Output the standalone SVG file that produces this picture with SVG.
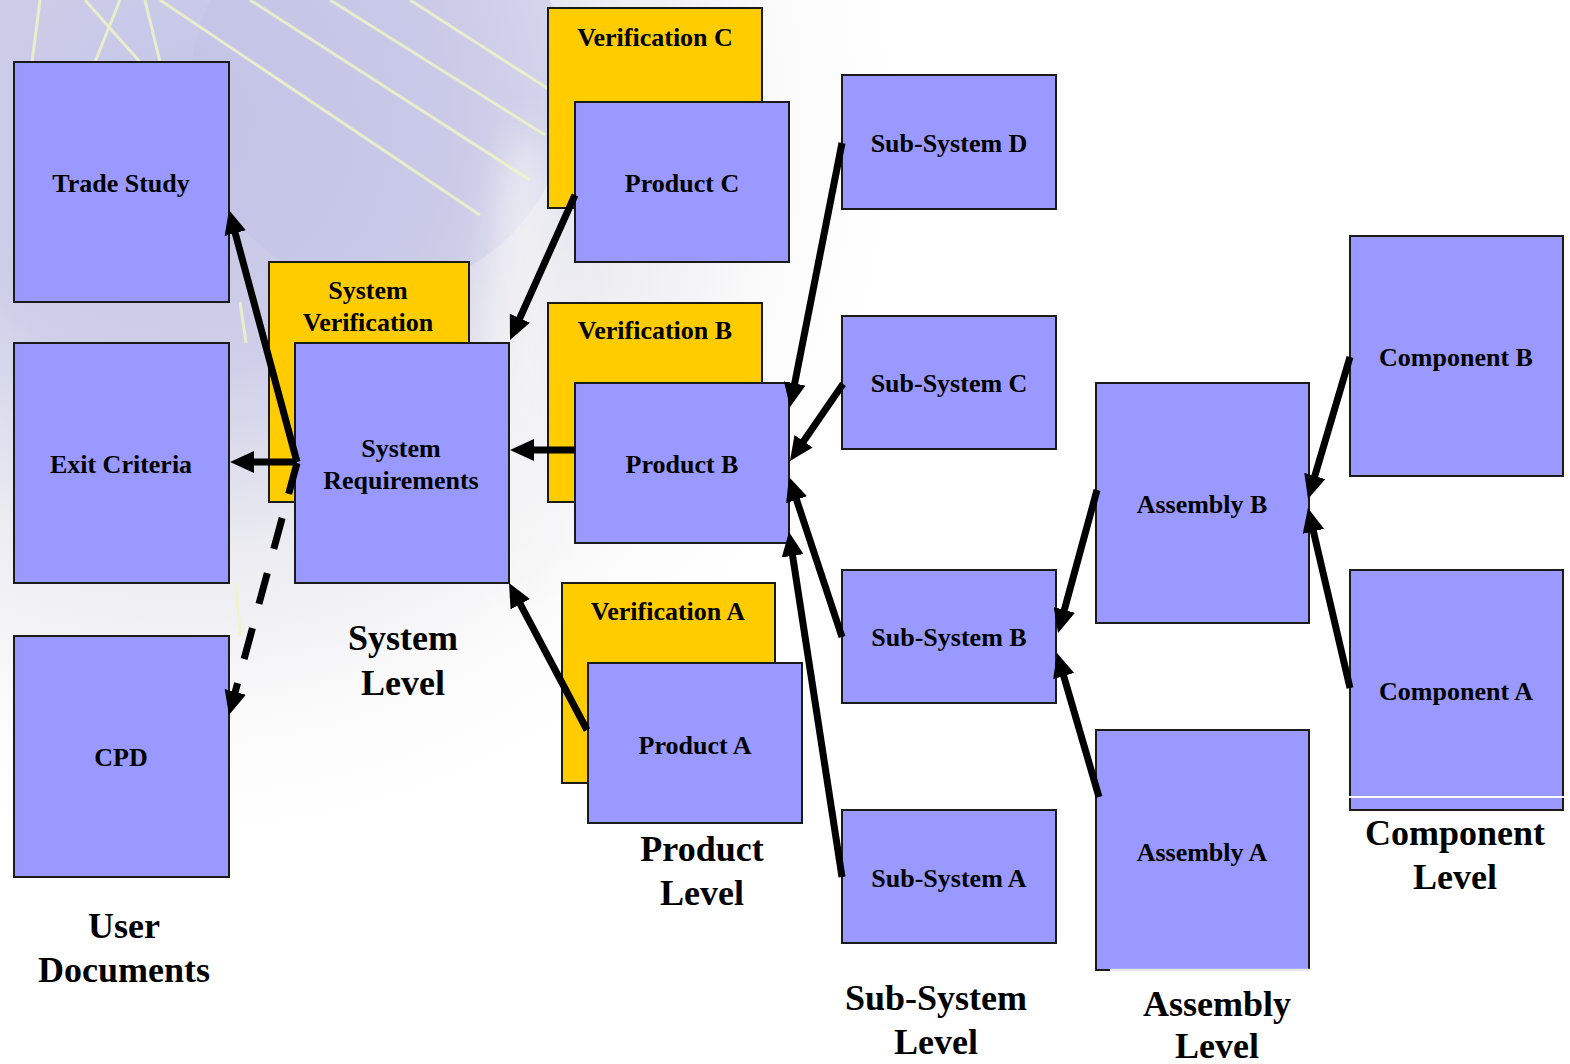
<svg xmlns="http://www.w3.org/2000/svg" width="1570" height="1064" viewBox="0 0 1570 1064">
<style>
.b{fill:#9999ff;stroke:#1a1a1a;stroke-width:2}
.y{fill:#ffcc00;stroke:#1a1a1a;stroke-width:2}
.t{font-family:"Liberation Serif","Times New Roman",serif;font-weight:bold;font-size:26px;fill:#000;text-anchor:middle}
.l{font-family:"Liberation Serif","Times New Roman",serif;font-weight:bold;font-size:36px;fill:#000;text-anchor:middle}
.c{fill:none;stroke:#000;stroke-width:7;marker-end:url(#ah)}
.bgl{fill:none;stroke:#eef3c6;stroke-width:3;opacity:0.85}
</style>
<defs>
<marker id="ah" viewBox="0 0 24 22" markerUnits="userSpaceOnUse" markerWidth="24" markerHeight="22" refX="4" refY="11" orient="auto">
<path d="M0,0 L24,11 L0,22 z" fill="#000"/>
</marker>
<radialGradient id="bg" cx="180" cy="120" r="720" gradientUnits="userSpaceOnUse">
<stop offset="0" stop-color="#c4c4e8"/>
<stop offset="0.35" stop-color="#cfcfe9"/>
<stop offset="0.6" stop-color="#ebebf1"/>
<stop offset="0.85" stop-color="#fbfbfb"/>
<stop offset="1" stop-color="#ffffff"/>
</radialGradient>
<filter id="blur" x="-50%" y="-50%" width="200%" height="200%"><feGaussianBlur stdDeviation="18"/></filter>
</defs>
<g id="background">
<rect x="0" y="0" width="1570" height="1064" fill="#ffffff"/>
<rect x="0" y="0" width="900" height="1064" fill="url(#bg)"/>
<ellipse cx="380" cy="90" rx="190" ry="200" fill="#c0c0e6" opacity="0.45"/>
<ellipse cx="525" cy="360" rx="35" ry="230" fill="#f6f6f6" opacity="0.7" filter="url(#blur)"/>
<line class="bgl" x1="160" y1="0" x2="480" y2="215"/>
<line class="bgl" x1="250" y1="0" x2="530" y2="180"/>
<line class="bgl" x1="330" y1="0" x2="545" y2="135"/>
<line class="bgl" x1="410" y1="0" x2="550" y2="90"/>
<line class="bgl" x1="40" y1="0" x2="32" y2="62"/>
<line class="bgl" x1="120" y1="0" x2="95" y2="62"/>
<line class="bgl" x1="85" y1="0" x2="140" y2="62"/>
<line class="bgl" x1="145" y1="0" x2="160" y2="62"/>
<line class="bgl" x1="240" y1="302" x2="246" y2="343"/>
<line class="bgl" x1="236" y1="583" x2="240" y2="636"/>
</g>
<g id="trade-study"><rect class="b" x="14" y="62" width="215" height="240"/><text class="t" x="121" y="192">Trade Study</text></g>
<g id="exit-criteria"><rect class="b" x="14" y="343" width="215" height="240"/><text class="t" x="121" y="473">Exit Criteria</text></g>
<g id="cpd"><rect class="b" x="14" y="636" width="215" height="241"/><text class="t" x="121" y="766">CPD</text></g>
<g id="system-verification"><rect class="y" x="269" y="262" width="200" height="240"/><text class="t" x="368" y="299">System</text><text class="t" x="368" y="331">Verification</text></g>
<g id="system-requirements"><rect class="b" x="295" y="343" width="214" height="240"/><text class="t" x="401" y="457">System</text><text class="t" x="401" y="489">Requirements</text></g>
<g id="verification-c"><rect class="y" x="548" y="8" width="214" height="200"/><text class="t" x="655" y="46">Verification C</text></g>
<g id="product-c"><rect class="b" x="575" y="102" width="214" height="160"/><text class="t" x="682" y="192">Product C</text></g>
<g id="verification-b"><rect class="y" x="548" y="303" width="214" height="199"/><text class="t" x="655" y="339">Verification B</text></g>
<g id="product-b"><rect class="b" x="575" y="383" width="214" height="160"/><text class="t" x="682" y="473">Product B</text></g>
<g id="verification-a"><rect class="y" x="562" y="583" width="213" height="200"/><text class="t" x="668" y="620">Verification A</text></g>
<g id="product-a"><rect class="b" x="588" y="663" width="214" height="160"/><text class="t" x="695" y="754">Product A</text></g>
<g id="sub-system-d"><rect class="b" x="842" y="75" width="214" height="134"/><text class="t" x="949" y="152">Sub-System D</text></g>
<g id="sub-system-c"><rect class="b" x="842" y="316" width="214" height="133"/><text class="t" x="949" y="392">Sub-System C</text></g>
<g id="sub-system-b"><rect class="b" x="842" y="570" width="214" height="133"/><text class="t" x="949" y="646">Sub-System B</text></g>
<g id="sub-system-a"><rect class="b" x="842" y="810" width="214" height="133"/><text class="t" x="949" y="887">Sub-System A</text></g>
<g id="assembly-b"><rect class="b" x="1096" y="383" width="213" height="240"/><text class="t" x="1202" y="513">Assembly B</text></g>
<g id="assembly-a"><rect class="b" x="1096" y="730" width="213" height="240"/><line x1="1110" y1="970" x2="1310" y2="970" stroke="#e8e8ee" stroke-width="2.5"/><text class="t" x="1202" y="861">Assembly A</text></g>
<g id="component-b"><rect class="b" x="1350" y="236" width="213" height="240"/><text class="t" x="1456" y="366">Component B</text></g>
<g id="component-a"><rect class="b" x="1350" y="570" width="213" height="240"/><line x1="1349" y1="797" x2="1564" y2="797" stroke="#ffffff" stroke-width="2"/><text class="t" x="1456" y="700">Component A</text></g>
<g id="level-labels">
<text class="l" x="124" y="938">User</text><text class="l" x="124" y="982">Documents</text>
<text class="l" x="403" y="650">System</text><text class="l" x="403" y="695">Level</text>
<text class="l" x="702" y="861">Product</text><text class="l" x="702" y="905">Level</text>
<text class="l" x="936" y="1010">Sub-System</text><text class="l" x="936" y="1054">Level</text>
<text class="l" x="1217" y="1016">Assembly</text><text class="l" x="1217" y="1058">Level</text>
<text class="l" x="1455" y="845">Component</text><text class="l" x="1455" y="889">Level</text>
</g>
<g id="connectors">
<path class="c" d="M297,462 L234.2,229.3"/>
<path class="c" d="M297,462 L250,462"/>
<path class="c" d="M297,463 L234.2,695.7" stroke-dasharray="32 25"/>
<path class="c" d="M575,195 L518.2,321.8"/>
<path class="c" d="M575,450 L530,450"/>
<path class="c" d="M587,730 L518.4,600.7"/>
<path class="c" d="M842,143 L793.9,387.4"/>
<path class="c" d="M843,384 L801.3,444.5"/>
<path class="c" d="M842,637 L795.3,496"/>
<path class="c" d="M842,877 L792,551.8"/>
<path class="c" d="M1097,490 L1063.3,613.7"/>
<path class="c" d="M1099,797 L1062.6,672.2"/>
<path class="c" d="M1350,357 L1313.7,479.8"/>
<path class="c" d="M1350,688 L1312.5,527.5"/>
</g>
</svg>
